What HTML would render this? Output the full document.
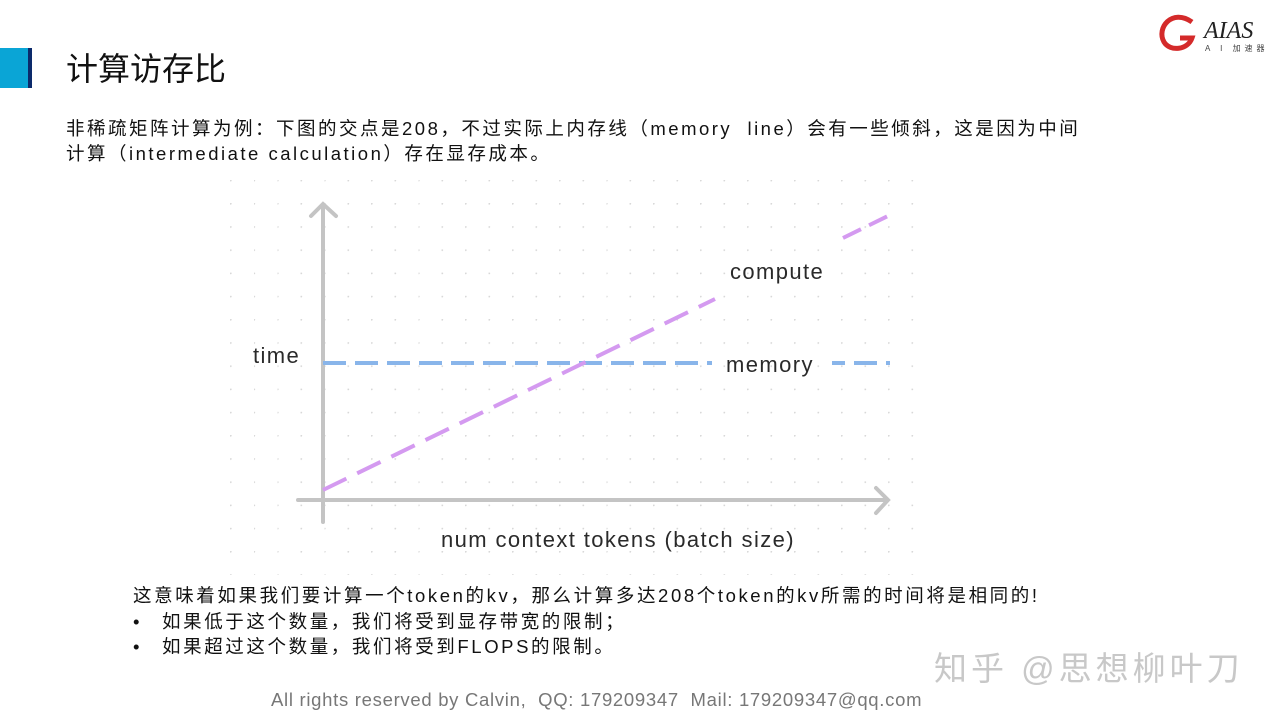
<!DOCTYPE html>
<html><head><meta charset="utf-8"><style>
body{margin:0;width:1280px;height:720px;background:#fff;position:relative;overflow:hidden;font-family:"Liberation Sans","Noto Sans CJK SC",sans-serif;color:#111}
.a{position:absolute;white-space:nowrap}
.b{font-size:18.5px;line-height:25.5px;letter-spacing:2.6px}
</style></head><body>
<div class="a" style="left:0;top:48px;width:28px;height:40px;background:#0aa5d6"></div>
<div class="a" style="left:28px;top:48px;width:4px;height:40px;background:#0c2a6b"></div>
<div class="a" style="left:66px;top:48px;font-size:32px;line-height:42px">计算访存比</div>
<div class="a" style="left:66px;top:116px;font-size:18.5px;line-height:25px;letter-spacing:2.5px">非稀疏矩阵计算为例：下图的交点是208，不过实际上内存线（memory&nbsp; line）会有一些倾斜，这是因为中间<br>计算（intermediate calculation）存在显存成本。</div>
<svg class="a" style="left:0;top:0" width="1280" height="720">
<defs><pattern id="g" x="230" y="203" width="23.5" height="23.2" patternUnits="userSpaceOnUse"><circle cx="0.8" cy="0.8" r="0.9" fill="#d8d8d8"/></pattern></defs>
<rect x="225" y="180" width="695" height="395" fill="url(#g)"/>
<g stroke="#c4c4c4" stroke-width="4" fill="none" stroke-linecap="round">
<line x1="323" y1="205" x2="323" y2="522"/>
<polyline points="311,216 323,204 336,216"/>
<line x1="298" y1="500" x2="887" y2="500"/>
<polyline points="876,488 888,500 876,513"/>
</g>
<line x1="323" y1="363" x2="712" y2="363" stroke="#89b5ea" stroke-width="4" stroke-dasharray="23,9"/>
<line x1="832" y1="363" x2="890" y2="363" stroke="#89b5ea" stroke-width="4" stroke-dasharray="13,9,23,9"/>
<line x1="323" y1="490" x2="715" y2="299" stroke="#d49af0" stroke-width="4" stroke-dasharray="26,12"/>
<line x1="843" y1="238" x2="890" y2="215" stroke="#d49af0" stroke-width="4" stroke-dasharray="20,9"/>
<g font-family="Liberation Sans,sans-serif" font-size="22" fill="#2a2a2a" letter-spacing="1.4">
<text x="253" y="363">time</text>
<text x="730" y="279">compute</text>
<text x="726" y="372">memory</text>
<text x="441" y="547">num context tokens (batch size)</text>
</g>
<path d="M1192 22 C1172 8 1156 28 1164 42 C1170 52 1188 50 1192 38 L1180 38" stroke="#d42a2a" stroke-width="5" fill="none"/>
<text x="1204" y="38" font-size="24" font-style="italic" fill="#222" font-family="Liberation Serif,serif">AIAS</text>
<text x="1205" y="51" font-size="8" fill="#444" font-family="Liberation Sans,Noto Sans CJK SC,sans-serif" letter-spacing="4">A I 加速器</text>
</svg>
<div class="a b" style="left:133px;top:583px">这意味着如果我们要计算一个token的kv，那么计算多达208个token的kv所需的时间将是相同的!</div>
<div class="a b" style="left:133px;top:608.5px">•</div>
<div class="a b" style="left:162px;top:608.5px">如果低于这个数量，我们将受到显存带宽的限制；</div>
<div class="a b" style="left:133px;top:634px">•</div>
<div class="a b" style="left:162px;top:634px">如果超过这个数量，我们将受到FLOPS的限制。</div>
<div class="a" style="left:934px;top:647px;font-size:33px;color:#c8c8c8;line-height:44px;letter-spacing:4px">知乎 @思想柳叶刀</div>
<div class="a" style="left:271px;top:688px;font-size:18.5px;color:#777;line-height:24px;letter-spacing:0.7px">All rights reserved by Calvin,&nbsp; QQ: 179209347&nbsp; Mail: 179209347@qq.com</div>
</body></html>
